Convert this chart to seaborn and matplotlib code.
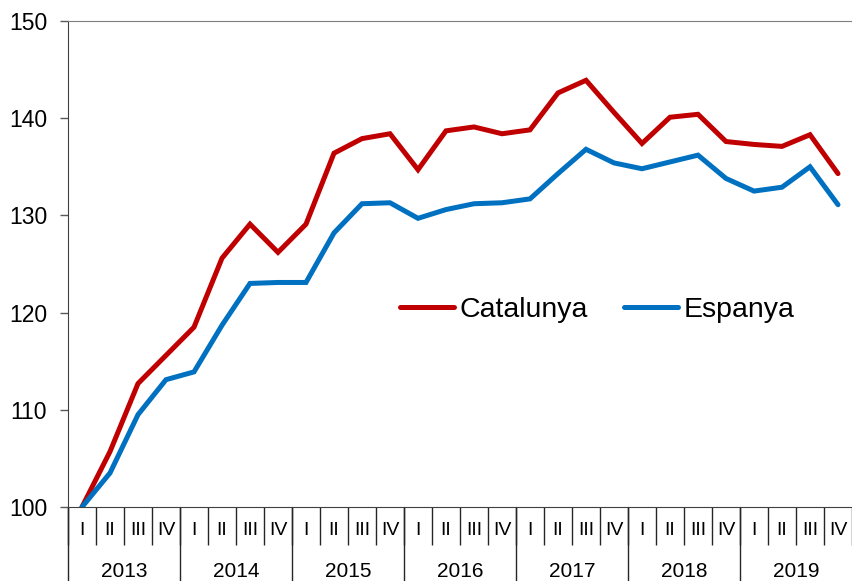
import numpy as np
import pandas as pd
import matplotlib
matplotlib.use('Agg')
import matplotlib.pyplot as plt
import matplotlib.transforms as mtransforms
import seaborn as sns

# Dades: índex trimestral (2013 T1 = 100)
anys = ['2013', '2014', '2015', '2016', '2017', '2018', '2019']
trimestres = ['I', 'II', 'III', 'IV']
catalunya = [100.0, 105.7, 112.7, 115.6, 118.5, 125.6, 129.1, 126.2,
             129.1, 136.4, 137.9, 138.4, 134.7, 138.7, 139.1, 138.4,
             138.8, 142.6, 143.9, 140.6, 137.4, 140.1, 140.4, 137.6,
             137.3, 137.1, 138.3, 134.3]
espanya = [100.0, 103.5, 109.5, 113.1, 113.9, 118.7, 123.0, 123.1,
           123.1, 128.2, 131.2, 131.3, 129.7, 130.6, 131.2, 131.3,
           131.7, 134.3, 136.8, 135.4, 134.8, 135.5, 136.2, 133.8,
           132.5, 132.9, 135.0, 131.1]

etiquetes_q = trimestres * len(anys)
n = len(catalunya)
df = pd.DataFrame({
    'idx': list(range(n)) * 2,
    'valor': catalunya + espanya,
    'zona': ['Catalunya'] * n + ['Espanya'] * n,
})

sns.set_style('white')
plt.rcParams['font.family'] = ['Liberation Sans', 'DejaVu Sans']
plt.rcParams['text.color'] = 'black'
plt.rcParams['xtick.color'] = 'black'
plt.rcParams['ytick.color'] = 'black'

fig = plt.figure(figsize=(8.52, 5.81), dpi=100)
ax = fig.add_axes([68 / 852, 74 / 581, 784 / 852, 486 / 581])

sns.lineplot(data=df, x='idx', y='valor', hue='zona',
             palette={'Catalunya': '#C00000', 'Espanya': '#0070C0'},
             linewidth=3.6, ax=ax, legend=True)
for l in ax.lines:
    l.set_solid_capstyle('round')
    l.set_solid_joinstyle('miter')

ax.set_ylim(100, 150)
ax.set_xlim(-0.5, -0.5 + 784 / 28.1)
ax.set_yticks([100, 110, 120, 130, 140, 150])
ax.tick_params(axis='y', which='major', direction='out', length=6, width=1,
               color='#595959', labelcolor='black', labelsize=16.5, pad=9,
               left=True)

# separadors de trimestre (ticks majors) i etiquetes (ticks menors)
ax.set_xticks(np.arange(-0.5, n, 1.0))
ax.set_xticklabels([])
ax.tick_params(axis='x', which='major', direction='out', length=27.5,
               width=1, color='#262626', bottom=True)
ax.set_xticks(np.arange(n), minor=True)
ax.set_xticklabels(etiquetes_q, minor=True)
ax.tick_params(axis='x', which='minor', length=0, labelsize=14, pad=11,
               labelcolor='black')

trans = mtransforms.blended_transform_factory(ax.transData, ax.transAxes)
for k, a in enumerate(anys):
    ax.text(4 * k + 1.5, -0.132, a, transform=trans, ha='center',
            va='center', fontsize=15, color='black')
    ax.plot([4 * k - 0.5, 4 * k - 0.5], [0, -0.16], transform=trans,
            color='#262626', lw=1, clip_on=False)

ax.set_xlabel('')
ax.set_ylabel('')
for s in ['left', 'bottom']:
    ax.spines[s].set_color('#404040')
ax.spines['top'].set_color('#7f7f7f')
ax.spines['right'].set_visible(False)

handles, labels = ax.get_legend_handles_labels()
leg = ax.legend(handles, labels, loc='center', bbox_to_anchor=(0.675, 0.405),
                ncol=2, frameon=False, fontsize=20.5, handlelength=1.9,
                handletextpad=0.2, columnspacing=1.25)
for t in leg.get_texts():
    t.set_color('black')

fig.savefig('out.png', dpi=100)
